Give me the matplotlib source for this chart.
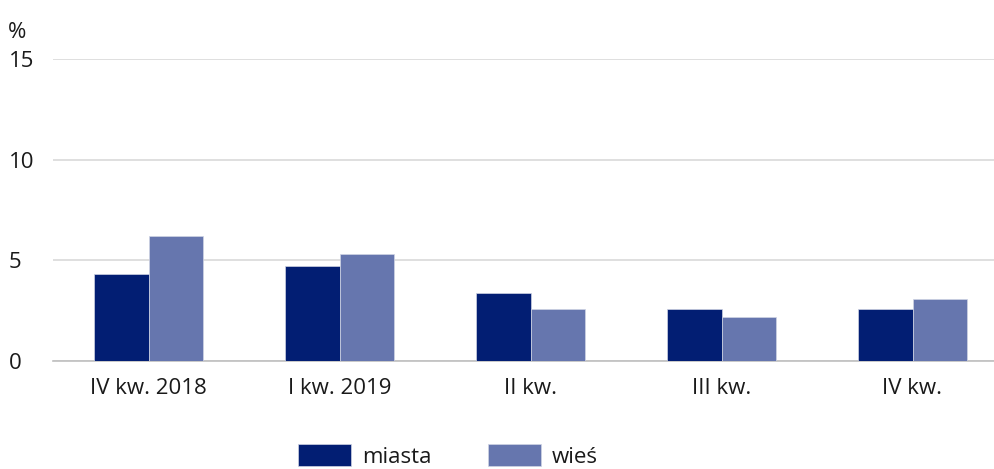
import matplotlib
matplotlib.use('Agg')
import matplotlib.pyplot as plt
import numpy as np

categories = ['IV kw. 2018', 'I kw. 2019', 'II kw.', 'III kw.', 'IV kw.']
miasta = [4.3, 4.7, 3.4, 2.6, 2.6]
wies = [6.2, 5.3, 2.6, 2.2, 3.1]
yticks = [0, 5, 10, 15]

plt.rcParams['font.family'] = ['Open Sans', 'DejaVu Sans']
plt.rcParams['font.size'] = 16
txt = '#1a1a1a'

fig = plt.figure(figsize=(9.94, 4.69), dpi=100)
# axes goes a bit past the right edge, like in the original
ax = fig.add_axes([53 / 994, 1 - 361 / 469, 955 / 994, 302 / 469])

x = np.arange(len(categories))
w = 0.285
ax.bar(x - w / 2, miasta, w, color='#021e73', edgecolor='#d0d4e4', linewidth=0.5, label='miasta', zorder=3)
ax.bar(x + w / 2, wies, w, color='#6676ae', edgecolor='#d0d4e4', linewidth=0.5, label='wieś', zorder=3)

ax.set_xlim(-0.5, 4.5)
ax.set_ylim(0, 15)
ax.set_yticks(yticks)
ax.set_xticks(x)
ax.set_xticklabels(categories, color=txt)
ax.grid(axis='y', color='#d9d9d9', linewidth=1.2, zorder=0)
for s in ['top', 'right', 'left']:
    ax.spines[s].set_visible(False)
ax.spines['bottom'].set_color('#bfbfbf')
ax.spines['bottom'].set_linewidth(1.2)
ax.tick_params(axis='both', length=0)
ax.tick_params(axis='x', pad=12)
ax.tick_params(axis='y', pad=32)
for lab in ax.get_yticklabels():
    lab.set_horizontalalignment('left')
    lab.set_color(txt)

fig.text(8 / 994, 1 - 33 / 469, '%', ha='left', va='center', color=txt, fontsize=16)

fig.legend(loc='center', bbox_to_anchor=(448 / 994, 1 - 456 / 469), ncol=2, frameon=False,
           handlelength=2.4, handleheight=1.15, handletextpad=0.5, columnspacing=2.5,
           labelcolor=txt)

fig.savefig('out.png', dpi=100)
